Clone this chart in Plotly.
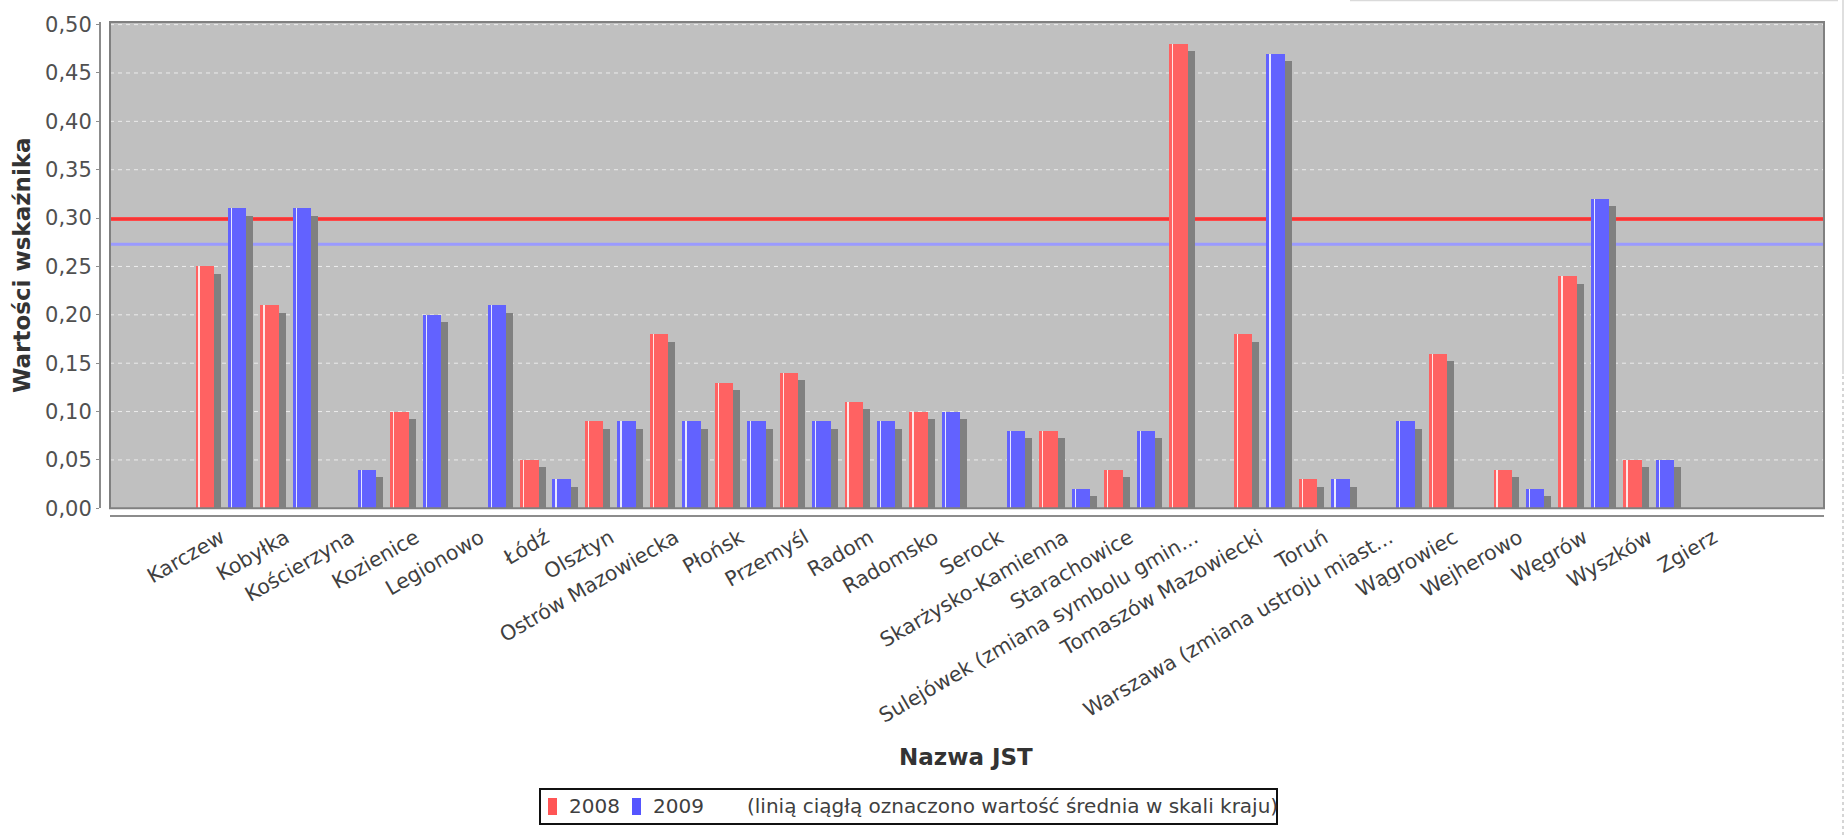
import plotly.graph_objects as go

# ---------------- data ----------------
categories = [
    "Karczew", "Kobyłka", "Kościerzyna", "Kozienice", "Legionowo", "Łódź",
    "Olsztyn", "Ostrów Mazowiecka", "Płońsk", "Przemyśl", "Radom", "Radomsko",
    "Serock", "Skarżysko-Kamienna", "Starachowice",
    "Sulejówek (zmiana symbolu gmin...", "Tomaszów Mazowiecki", "Toruń",
    "Warszawa (zmiana ustroju miast...", "Wągrowiec", "Wejherowo", "Węgrów",
    "Wyszków", "Zgierz",
]
values_2008 = [0.25, 0.21, None, 0.10, None, 0.05, 0.09, 0.18, 0.13, 0.14, 0.11, 0.10,
               None, 0.08, 0.04, 0.48, 0.18, 0.03, None, 0.16, 0.04, 0.24, 0.05, None]
values_2009 = [0.31, 0.31, 0.04, 0.20, 0.21, 0.03, 0.09, 0.09, 0.09, 0.09, 0.09, 0.10,
               0.08, 0.02, 0.08, None, 0.47, 0.03, 0.09, None, 0.02, 0.32, 0.05, None]
avg_2008 = 0.299
avg_2009 = 0.273
series_names = ["2008", "2009"]
y_ticks = [0.0, 0.05, 0.10, 0.15, 0.20, 0.25, 0.30, 0.35, 0.40, 0.45, 0.50]

# ---------------- styling / geometry ----------------
W, H = 1845, 837
ML, MR, MT, MB = 100, 21, 22, 321
PW, PH = W - ML - MR, H - MT - MB
FONT = "DejaVu Sans"
RED, BLUE = "#FF6262", "#6262FF"
RED_L, BLUE_L = "#FF5555", "#5555FF"
SHADOW = "#808080"

def px(x):
    return (x - ML) / PW

def py(y):
    return (H - MB - y) / PH

x_range = [-1.71, 24.70]
bar_w = 0.285
off_red = -0.25 - bar_w / 2
off_blue = 0.25 - bar_w / 2
sh_dx = 0.108
sh_dy = 0.0077
stripe_dx = 0.046
stripe_w = 0.02

xs = list(range(len(categories)))

def shifted(vals, d):
    return [None if v is None else v - d for v in vals]

fig = go.Figure()
for vals, off in [(values_2008, off_red), (values_2009, off_blue)]:
    fig.add_trace(go.Bar(x=xs, y=shifted(vals, sh_dy), offset=off + sh_dx, width=bar_w,
                         marker=dict(color=SHADOW, line=dict(width=0)),
                         showlegend=False, hoverinfo="skip"))
for vals, off, col, nm in [(values_2008, off_red, RED, series_names[0]),
                           (values_2009, off_blue, BLUE, series_names[1])]:
    fig.add_trace(go.Bar(x=xs, y=vals, offset=off, width=bar_w, name=nm,
                         marker=dict(color=col, line=dict(width=0)),
                         showlegend=False))
    fig.add_trace(go.Bar(x=xs, y=vals, offset=off + stripe_dx, width=stripe_w,
                         marker=dict(color="rgba(255,255,255,0.85)", line=dict(width=0)),
                         showlegend=False, hoverinfo="skip"))

shapes = []
# dashed gridlines (below the average lines and the bars)
for t in y_ticks[1:]:
    shapes.append(dict(type="line", xref="x domain", yref="y", x0=0, x1=1, y0=t, y1=t,
                       line=dict(color="rgba(255,255,255,0.7)", width=1, dash="4px,4px"),
                       layer="below"))
shapes += [
    # national average lines (under the bars)
    dict(type="line", xref="x domain", yref="y", x0=0, x1=1, y0=avg_2008, y1=avg_2008,
         line=dict(color="#FF4848", width=4), layer="below"),
    dict(type="line", xref="x domain", yref="y", x0=0, x1=1, y0=avg_2008, y1=avg_2008,
         line=dict(color="#F03030", width=1.5), layer="below"),
    dict(type="line", xref="x domain", yref="y", x0=0, x1=1, y0=avg_2009, y1=avg_2009,
         line=dict(color="#9A9AFF", width=3), layer="below"),
    # plot outline
    dict(type="rect", xref="x domain", yref="y domain", x0=0, x1=1, y0=0, y1=1,
         line=dict(color="#808080", width=2), layer="above"),
    # legend box and swatches
    dict(type="rect", xref="paper", yref="paper", x0=px(540), x1=px(1277), y0=py(824), y1=py(789),
         line=dict(color="#111111", width=2), fillcolor="white", layer="above"),
    dict(type="rect", xref="paper", yref="paper", x0=px(548), x1=px(557), y0=py(815), y1=py(798),
         line=dict(width=0), fillcolor=RED_L, layer="above"),
    dict(type="rect", xref="paper", yref="paper", x0=px(632), x1=px(641), y0=py(815), y1=py(798),
         line=dict(width=0), fillcolor=BLUE_L, layer="above"),
    # page edge artefacts
    dict(type="line", xref="paper", yref="paper", x0=px(1350), x1=px(1838), y0=py(0.5), y1=py(0.5),
         line=dict(color="#DADADA", width=1.5)),
    dict(type="line", xref="paper", yref="paper", x0=px(1843), x1=px(1843), y0=py(0), y1=py(374),
         line=dict(color="#D5D5D5", width=1.5)),
    dict(type="line", xref="paper", yref="paper", x0=px(1843), x1=px(1843), y0=py(376), y1=py(837),
         line=dict(color="#C8C8C8", width=1.5, dash="dot")),
]

annotations = [
    dict(text="<b>Wartości wskaźnika</b>", xref="paper", yref="paper", x=px(22), y=py(265),
         textangle=-90, showarrow=False, xanchor="center", yanchor="middle",
         font=dict(family=FONT, size=23, color="#333333")),
    dict(text="<b>Nazwa JST</b>", xref="paper", yref="paper", x=px(966), y=py(757),
         showarrow=False, xanchor="center", yanchor="middle",
         font=dict(family=FONT, size=23, color="#333333")),
    dict(text=series_names[0], xref="paper", yref="paper", x=px(567), y=py(806),
         showarrow=False, xanchor="left", yanchor="middle",
         font=dict(family=FONT, size=20, color="#404040")),
    dict(text=series_names[1], xref="paper", yref="paper", x=px(651), y=py(806),
         showarrow=False, xanchor="left", yanchor="middle",
         font=dict(family=FONT, size=20, color="#404040")),
    dict(text="(linią ciągłą oznaczono wartość średnia w skali kraju)", xref="paper", yref="paper",
         x=px(745), y=py(806), showarrow=False, xanchor="left", yanchor="middle",
         font=dict(family=FONT, size=20, color="#404040")),
]

fig.update_layout(
    width=W, height=H,
    margin=dict(l=ML, r=MR, t=MT, b=MB, pad=0, autoexpand=False),
    paper_bgcolor="white", plot_bgcolor="#C0C0C0",
    barmode="overlay", bargap=0,
    separators=", ",
    showlegend=False,
    shapes=shapes, annotations=annotations,
    font=dict(family=FONT, size=20, color="#404040"),
    xaxis=dict(
        domain=[px(110), 1], anchor="free", position=0,
        range=x_range, tickmode="array", tickvals=xs, ticktext=categories,
        tickangle=-30, ticks="", showgrid=False, zeroline=False,
        showline=True, linecolor="#8C8C8C", linewidth=2,
        tickfont=dict(family=FONT, size=20.5, color="#404040"),
        ticklabelstandoff=1,
    ),
    yaxis=dict(
        domain=[py(508.3), 1], anchor="free", position=0,
        range=[0, 0.5027], tickmode="array", tickvals=y_ticks, tickformat=".2f",
        ticks="outside", ticklen=3, tickcolor="#8C8C8C", tickwidth=1,
        showline=True, linecolor="#8C8C8C", linewidth=2,
        showgrid=False, zeroline=False,
        tickfont=dict(family=FONT, size=21, color="#505050"),
    ),
)

fig.write_html("out.html",
               config={"displayModeBar": False},
               post_script="document.body.style.margin='0';document.body.style.overflow='hidden';")
